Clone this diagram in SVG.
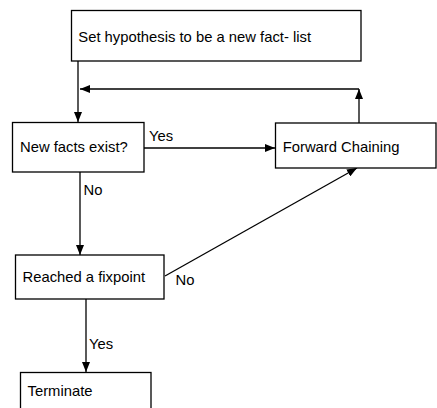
<svg xmlns="http://www.w3.org/2000/svg" width="437" height="408" viewBox="0 0 437 408">
<style>
.box{fill:#fff;stroke:#000;stroke-width:1.3}
.t{font-family:"Liberation Sans",Arial,sans-serif;font-size:14.8px;fill:#000}
.c{fill:none;stroke:#000;stroke-width:1.3}
</style>
<defs>
<marker id="ah" viewBox="0 0 10 8" refX="10" refY="4" markerWidth="10" markerHeight="8" markerUnits="userSpaceOnUse" orient="auto">
<path d="M0,0 L10,4 L0,8 Z" fill="#000"/>
</marker>
</defs>
<rect width="437" height="408" fill="#fff"/>
<g id="connectors">
<line class="c" x1="78" y1="61" x2="78" y2="122" marker-end="url(#ah)"/>
<line class="c" x1="359" y1="123" x2="359" y2="89" marker-end="url(#ah)"/>
<line class="c" x1="359" y1="89" x2="80" y2="89" marker-end="url(#ah)"/>
<line class="c" x1="144" y1="148" x2="275" y2="148" marker-end="url(#ah)"/>
<line class="c" x1="80" y1="172" x2="80" y2="255" marker-end="url(#ah)"/>
<line class="c" x1="165" y1="276" x2="357" y2="168" marker-end="url(#ah)"/>
<line class="c" x1="86" y1="299" x2="86" y2="372" marker-end="url(#ah)"/>
<text class="t" x="149" y="140.5">Yes</text>
<text class="t" x="83.5" y="195">No</text>
<text class="t" x="175.5" y="285">No</text>
<text class="t" x="89" y="349">Yes</text>
</g>
<g id="set-hypothesis">
<rect class="box" x="71.5" y="10.5" width="289.5" height="50.5"/>
<text class="t" x="78.3" y="41.5">Set hypothesis to be a new fact- list</text>
</g>
<g id="new-facts">
<rect class="box" x="12.5" y="122.5" width="131.5" height="49.5"/>
<text class="t" x="20" y="152">New facts exist?</text>
</g>
<g id="forward-chaining">
<rect class="box" x="275.5" y="123" width="160.5" height="45"/>
<text class="t" x="282.7" y="151.7">Forward Chaining</text>
</g>
<g id="fixpoint">
<rect class="box" x="15.5" y="255" width="148.5" height="44"/>
<text class="t" x="22.5" y="282">Reached a fixpoint</text>
</g>
<g id="terminate">
<rect class="box" x="20.5" y="372.5" width="130.5" height="40"/>
<text class="t" x="27.5" y="396">Terminate</text>
</g>
</svg>
